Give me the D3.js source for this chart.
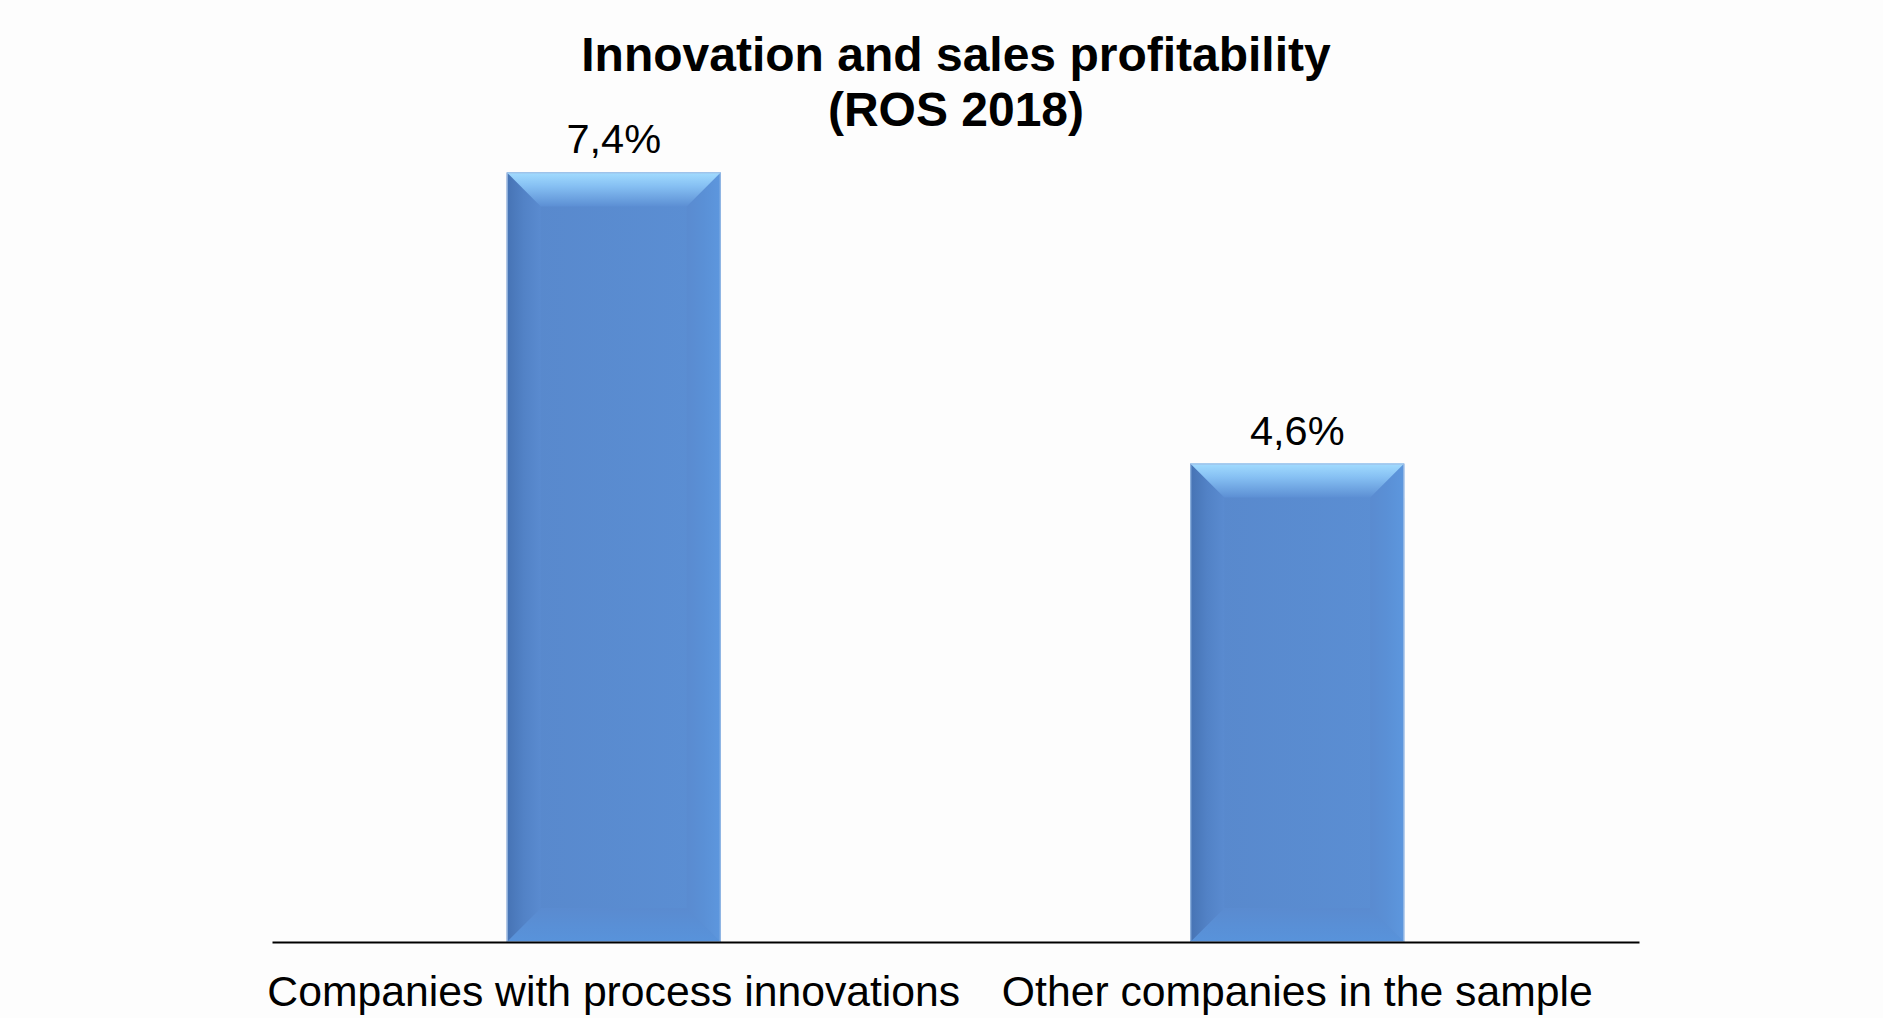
<!DOCTYPE html>
<html>
<head>
<meta charset="utf-8">
<script src="https://cdn.jsdelivr.net/npm/d3@7"></script>
<style>
  html, body { margin: 0; padding: 0; background: #fdfdfd; }
  svg { display: block; }
  text { font-family: "Liberation Sans", Arial, sans-serif; fill: #000; }
</style>
</head>
<body>
<svg id="chart" width="1883" height="1018"></svg>
<script>
// Chart data
const categories = ["Companies with process innovations", "Other companies in the sample"];
const rosValues = [7.4, 4.6];
const valueLabels = ["7,4%", "4,6%"];
const titleLines = ["Innovation and sales profitability", "(ROS 2018)"];

const W = 1883, H = 1018;
const svg = d3.select("#chart");

svg.append("rect").attr("width", W).attr("height", H).attr("fill", "#fdfdfd");

const x = d3.scaleBand()
  .domain(categories)
  .range([272, 1639])
  .paddingInner(0.687)
  .paddingOuter(0.3435);

const y = d3.scaleLinear()
  .domain([0, 8])
  .range([942, 942 - 8 * 104]);

// Gradients for the bevelled bar edges
const defs = svg.append("defs");
function grad(id, x1, y1, x2, y2, stops) {
  const g = defs.append("linearGradient").attr("id", id)
    .attr("x1", x1).attr("y1", y1).attr("x2", x2).attr("y2", y2);
  stops.forEach(([o, c]) => g.append("stop").attr("offset", o).attr("stop-color", c));
}
grad("bevTop", 0, 0, 0, 1, [[0, "#a2dcff"], [0.4, "#86c0f3"], [1, "#5c8fd4"]]);
grad("bevLeft", 0, 0, 1, 0, [[0, "#4673b4"], [0.5, "#5282c6"], [1, "#5a8bd0"]]);
grad("bevRight", 0, 0, 1, 0, [[0, "#5a8bd0"], [0.5, "#5a90d6"], [1, "#5d97de"]]);
grad("bevBottom", 0, 0, 0, 1, [[0, "#5a8bd0"], [1, "#5893db"]]);
grad("face", 0, 0, 1, 0, [[0, "#5888cc"], [1, "#5b8fd4"]]);

const bev = 34;
const bars = svg.append("g").selectAll("g.bar")
  .data(categories.map((c, i) => ({ cat: c, v: rosValues[i], label: valueLabels[i] })))
  .join("g").attr("class", "bar");

bars.each(function (d) {
  const g = d3.select(this);
  const x0 = x(d.cat), x1 = x0 + x.bandwidth();
  const y0 = y(d.v), y1 = y(0);
  const poly = pts => pts.map(p => p.join(",")).join(" ");
  g.append("rect").attr("x", x0).attr("y", y0).attr("width", x1 - x0).attr("height", y1 - y0)
    .attr("fill", "url(#face)");
  g.append("polygon").attr("points", poly([[x0, y1], [x1, y1], [x1 - bev, y1 - bev], [x0 + bev, y1 - bev]]))
    .attr("fill", "url(#bevBottom)");
  g.append("polygon").attr("points", poly([[x0, y0], [x0 + bev, y0 + bev], [x0 + bev, y1 - bev], [x0, y1]]))
    .attr("fill", "url(#bevLeft)");
  g.append("polygon").attr("points", poly([[x1, y0], [x1 - bev, y0 + bev], [x1 - bev, y1 - bev], [x1, y1]]))
    .attr("fill", "url(#bevRight)");
  g.append("polygon").attr("points", poly([[x0, y0], [x1, y0], [x1 - bev, y0 + bev], [x0 + bev, y0 + bev]]))
    .attr("fill", "url(#bevTop)");
  g.append("rect").attr("x", x0 + 0.5).attr("y", y0 + 0.5).attr("width", x1 - x0 - 1).attr("height", y1 - y0 - 1)
    .attr("fill", "none").attr("stroke", "#9fbfe6").attr("stroke-width", 1);
  g.append("text")
    .attr("x", x0 + x.bandwidth() / 2)
    .attr("y", y0 - 19)
    .attr("text-anchor", "middle")
    .attr("font-size", 41.5)
    .text(d.label);
});

// Category axis
const axis = svg.append("g")
  .attr("transform", `translate(0,${y(0)})`)
  .call(d3.axisBottom(x).tickSize(0).tickPadding(0));
axis.select(".domain").attr("stroke", "#000").attr("stroke-width", 2.2);
axis.selectAll(".tick text")
  .attr("font-family", "\"Liberation Sans\", Arial, sans-serif")
  .attr("font-size", 42.7)
  .attr("fill", "#000")
  .attr("dy", null)
  .attr("y", 64);

// Title
const title = svg.append("g");
titleLines.forEach((t, i) => {
  title.append("text")
    .attr("x", 956)
    .attr("y", 71 + i * 55)
    .attr("text-anchor", "middle")
    .attr("font-size", 48)
    .attr("font-weight", "bold")
    .text(t);
});
</script>
</body>
</html>
